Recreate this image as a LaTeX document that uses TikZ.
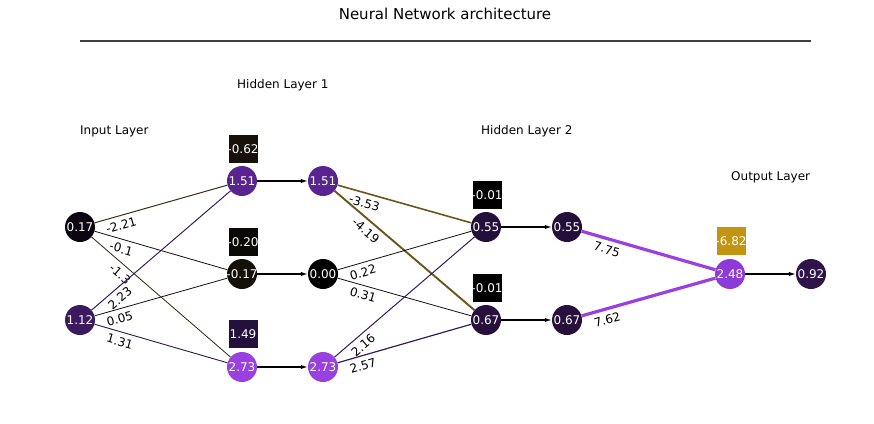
\documentclass[tikz,border=0pt]{standalone}
\usepackage{fontspec}
\setmainfont{DejaVu Sans}
\usetikzlibrary{arrows.meta}

% node colours
\definecolor{cx1}{HTML}{0A0510}
\definecolor{cx2}{HTML}{3B1A60}
\definecolor{cpa}{HTML}{5A2490}
\definecolor{cpb}{HTML}{14100A}
\definecolor{cpc}{HTML}{9B40E0}
\definecolor{cqa}{HTML}{22103A}
\definecolor{cqb}{HTML}{28103C}
\definecolor{cout}{HTML}{8C3AD8}
\definecolor{cfin}{HTML}{2E1448}
\definecolor{cba}{HTML}{17110A}
\definecolor{cbb}{HTML}{0B0906}
\definecolor{cbc}{HTML}{24103C}
\definecolor{cgold}{HTML}{C29410}
% edge colours
\definecolor{olive1}{HTML}{3C3010}
\definecolor{olive2}{HTML}{2E2610}
\definecolor{olive3}{HTML}{6C5518}
\definecolor{plum1}{HTML}{3C1C60}
\definecolor{plum2}{HTML}{2E1648}
\definecolor{plum3}{HTML}{381A5A}
\definecolor{nearblk}{HTML}{120E10}

\newcommand\nval[1]{\makebox[0pt]{#1}}

\begin{document}
\begin{tikzpicture}[
  x=1pt, y=-1pt,
  txt/.style={font=\fontsize{12}{14}\selectfont},
  neuron/.style={circle, minimum size=30pt, inner sep=0pt, text=white, txt},
  biasbox/.style={rectangle, minimum width=29pt, minimum height=28pt, inner sep=0pt, text=white, txt},
  wlabel/.style={txt, text=black, sloped, below=3pt, inner sep=1.5pt},
  flow/.style={-{Latex[length=7pt,width=4.5pt]}, line width=1.3pt},
  layer/.style={anchor=west, inner sep=0pt, txt}
]
  \useasboundingbox (0,0) rectangle (874,423);

  % title
  \node[font=\fontsize{15}{18}\selectfont] (title) at (445,14) {Neural Network architecture};
  \coordinate (ruleL) at (80,41);
  \coordinate (ruleR) at (811,41);
  \draw[line width=1.5pt, black!75] (ruleL) -- (ruleR);

  % layer captions
  \node[layer] (capin) at (80,131)  {Input Layer};
  \node[layer] (caph1) at (237,85)  {Hidden Layer 1};
  \node[layer] (caph2) at (481,131) {Hidden Layer 2};
  \node[layer] (capout) at (731,177) {Output Layer};

  % input
  \node[neuron, fill=cx1] (x1) at (80,227) {\nval{0.17}};
  \node[neuron, fill=cx2] (x2) at (80,320) {\nval{1.12}};

  % hidden layer 1
  \node[neuron, fill=cpa] (z1) at (242,181) {\nval{1.51}};
  \node[neuron, fill=cpb] (z2) at (242,274) {\nval{-0.17}};
  \node[neuron, fill=cpc] (z3) at (242,367) {\nval{2.73}};
  \node[biasbox, fill=cba] (b1) at (243,149) {\nval{-0.62}};
  \node[biasbox, fill=cbb] (b2) at (243,242) {\nval{-0.20}};
  \node[biasbox, fill=cbc] (b3) at (243,334) {\nval{1.49}};
  \node[neuron, fill=cpa] (a1) at (323,181) {\nval{1.51}};
  \node[neuron, fill=black] (a2) at (323,274) {\nval{0.00}};
  \node[neuron, fill=cpc] (a3) at (323,367) {\nval{2.73}};

  % hidden layer 2
  \node[neuron, fill=cqa] (z4) at (486,227) {\nval{0.55}};
  \node[neuron, fill=cqb] (z5) at (486,320) {\nval{0.67}};
  \node[biasbox, fill=black] (b4) at (487,195) {\nval{-0.01}};
  \node[biasbox, fill=black] (b5) at (487,288) {\nval{-0.01}};
  \node[neuron, fill=cqa] (a4) at (567,227) {\nval{0.55}};
  \node[neuron, fill=cqb] (a5) at (567,320) {\nval{0.67}};

  % output
  \node[neuron, fill=cout] (z6) at (730,274) {\nval{2.48}};
  \node[biasbox, fill=cgold] (b6) at (731,241) {\nval{-6.82}};
  \node[neuron, fill=cfin] (y) at (811,274) {\nval{0.92}};

  % weights input -> hidden 1
  \draw[olive1, line width=1pt] (x1) -- node[wlabel, pos=0.18] {-2.21} (z1);
  \draw[nearblk, line width=0.8pt] (x1) -- node[wlabel, pos=0.22] {-0.1} (z2);
  \draw[olive2, line width=0.8pt] (x1) -- node[wlabel, pos=0.25] {-1.3} (z3);
  \draw[plum1, line width=1pt] (x2) -- node[wlabel, pos=0.16] {2.23} (z1);
  \draw[nearblk, line width=0.8pt] (x2) -- node[wlabel, pos=0.17] {0.05} (z2);
  \draw[plum2, line width=0.9pt] (x2) -- node[wlabel, pos=0.21] {1.31} (z3);

  % weights hidden 1 -> hidden 2
  \draw[olive3, line width=1.6pt] (a1) -- node[wlabel, pos=0.22] {-3.53} (z4);
  \draw[olive3, line width=1.9pt] (a1) -- node[wlabel, pos=0.27] {-4.19} (z5);
  \draw[nearblk, line width=0.8pt] (a2) -- node[wlabel, pos=0.17] {0.22} (z4);
  \draw[nearblk, line width=0.8pt] (a2) -- node[wlabel, pos=0.21] {0.31} (z5);
  \draw[plum3, line width=1pt] (a3) -- node[wlabel, pos=0.16] {2.16} (z4);
  \draw[plum3, line width=1.2pt] (a3) -- node[wlabel, pos=0.17] {2.57} (z5);

  % weights hidden 2 -> output
  \draw[cpc, line width=3.2pt] (a4) -- node[wlabel, pos=0.21] {7.75} (z6);
  \draw[cpc, line width=3.2pt] (a5) -- node[wlabel, pos=0.17] {7.62} (z6);

  % activations
  \draw[flow] (z1) -- (a1);
  \draw[flow] (z2) -- (a2);
  \draw[flow] (z3) -- (a3);
  \draw[flow] (z4) -- (a4);
  \draw[flow] (z5) -- (a5);
  \draw[flow] (z6) -- (y);
\end{tikzpicture}
\end{document}
